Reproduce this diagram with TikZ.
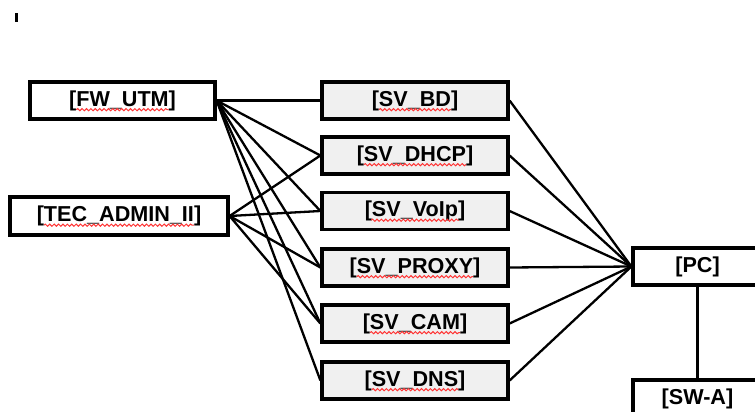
\documentclass[tikz,border=0pt]{standalone}
\usepackage{fontspec}
\setmainfont{Liberation Sans}
\usetikzlibrary{decorations.pathmorphing}
\newcommand\lblfont{\fontsize{10.8}{13}\selectfont\bfseries}
\begin{document}
\begin{tikzpicture}[x=0.5pt,y=-0.5pt,
  box/.style={draw=black,line width=1.6pt,rectangle,inner sep=0pt,
    minimum height=18.5pt,font=\lblfont,fill=white},
  srv/.style={box,fill=gray!12,minimum width=93pt},
  link/.style={line width=1.15pt},
  squig/.style={draw=red!80,line width=0.5pt,decorate,
    decoration={snake,amplitude=0.55pt,segment length=2.2pt}}]
\useasboundingbox (0,0) rectangle (755,412);
\clip (0,0) rectangle (755,412);

% stray cursor mark
\fill (15,13) rectangle (17.5,22);

% clients
\node[box,minimum width=92.5pt] (fw) at (122.5,100.5) {[FW\_UTM]};
\node[box,minimum width=109pt,minimum height=19pt] (tec) at (119,216) {[TEC\_ADMIN\_II]};

% servers
\node[srv] (bd)    at (415,100.5) {[SV\_BD]};
\node[srv] (dhcp)  at (415,155.5) {[SV\_DHCP]};
\node[srv] (voip)  at (415,211)   {[SV\_VoIp]};
\node[srv] (proxy) at (415,267.5) {[SV\_PROXY]};
\node[srv] (cam)   at (415,323.5) {[SV\_CAM]};
\node[srv] (dns)   at (415,380.5) {[SV\_DNS]};

% core
\node[box,minimum width=64.5pt] (pc)  at (697.5,266.5) {[PC]};
\node[box,minimum width=64.5pt] (swa) at (697.5,398.5) {[SW-A]};

% links
\foreach \s in {bd,dhcp,voip,proxy,cam,dns} {
  \draw[link] (fw.east) -- (\s.west);
  \draw[link] (\s.east) -- (pc.west);
}
\foreach \s in {dhcp,voip,proxy,cam}
  \draw[link] (tec.east) -- (\s.west);
\draw[link] (pc.south) -- (swa.north);

% spell-check underlines (half the width of the bracketed word, in pt)
\foreach \n/\w in {fw/23.1,tec/37.5,bd/18,dhcp/25.5,voip/21.9,
    proxy/29.1,cam/22.5,dns/21.6}
  \draw[squig] ([xshift=-\w pt,yshift=-1.8pt]\n.base)
    -- ([xshift=\w pt,yshift=-1.8pt]\n.base);
\end{tikzpicture}
\end{document}
